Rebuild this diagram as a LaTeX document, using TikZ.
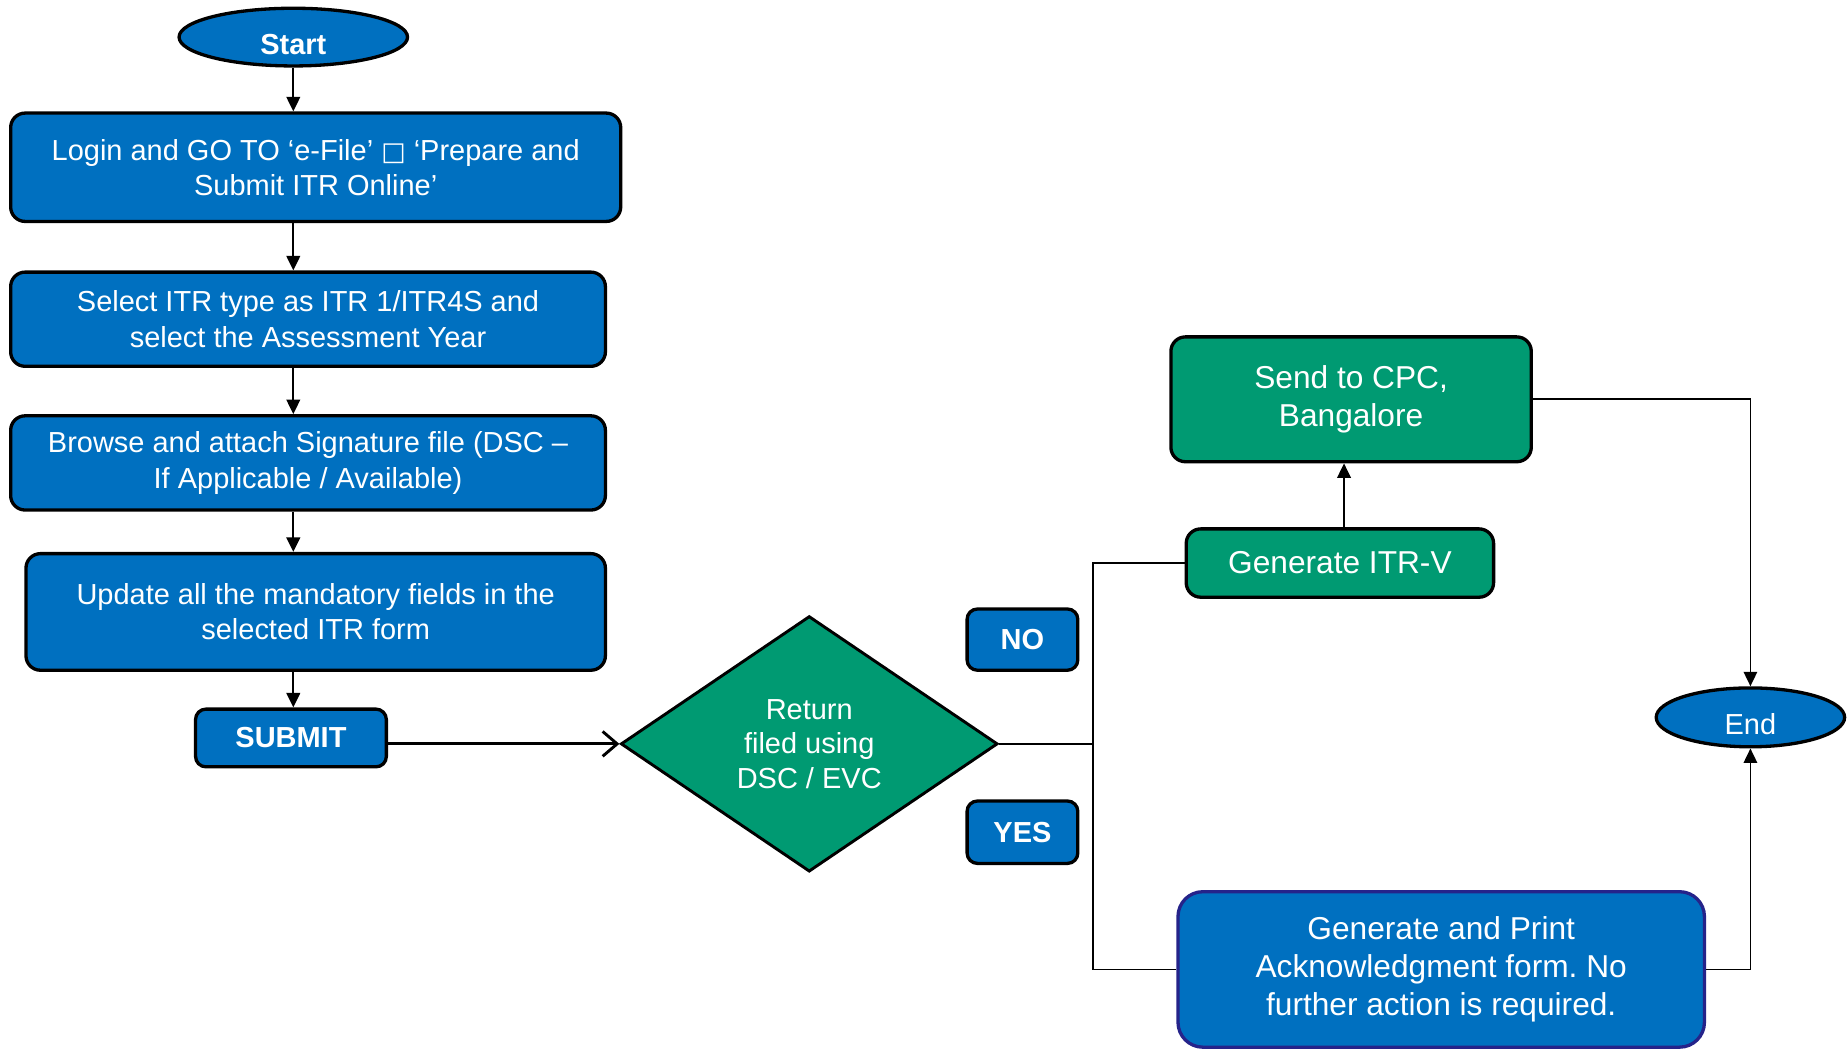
\documentclass[tikz,border=0pt]{standalone}
\usepackage{fontspec}
\setmainfont{Liberation Sans}
\newfontfamily\symfont{DejaVu Sans}
\usepackage{xcolor}
\usepackage{tikz}
\usetikzlibrary{calc,positioning,shapes.geometric,arrows.meta}
\frenchspacing

\definecolor{itblue}{HTML}{0070C0}
\definecolor{itgreen}{HTML}{009A72}
\definecolor{itnavy}{HTML}{25238A}

\begin{document}
\begin{tikzpicture}[x=0.02cm,y=-0.02cm,
		font=\fontsize{14}{17}\selectfont,
		terminal/.style={ellipse,draw=black,line width=1.6pt,fill=itblue,text=white,inner sep=0pt,text height=17pt,text depth=0pt},
		stepbox/.style={rectangle,rounded corners=7pt,draw=black,line width=1.6pt,fill=itblue,text=white,align=center,inner sep=0pt},
		greenbox/.style={stepbox,fill=itgreen,font=\fontsize{15.3}{18.5}\selectfont},
		tagbox/.style={stepbox,rounded corners=5pt,font=\bfseries\fontsize{14}{17}\selectfont},
		decision/.style={diamond,draw=black,line width=1.4pt,fill=itgreen,text=white,align=center,inner sep=0pt,font=\fontsize{14}{16.7}\selectfont},
		flowarrow/.style={line width=1.15pt,-{Triangle[length=7pt,width=6.5pt]}},
		joinline/.style={line width=0.7pt}]
	\useasboundingbox (0,0) rectangle (1568,891);

	% left column
	\node[terminal,minimum width=3.88cm,minimum height=0.98cm,font=\bfseries\fontsize{14}{17}\selectfont] (start) at (249,31.5) {Start};
	\node[stepbox,minimum width=10.36cm,minimum height=1.84cm] (login) at (268,142)
	{Login and GO TO ‘e-File’ {\symfont\fontsize{12.5}{17}\selectfont □} ‘Prepare and\\Submit ITR Online’};
	\node[stepbox,minimum width=10.1cm,minimum height=1.6cm] (select) at (261.5,271)
	{Select ITR type as ITR 1/ITR4S and\\select the Assessment Year};
	\node[stepbox,minimum width=10.1cm,minimum height=1.6cm] (browse) at (261.5,393)
	{Browse and attach Signature file (DSC –\\If Applicable / Available)};
	\node[stepbox,minimum width=9.84cm,minimum height=1.98cm] (update) at (268,519.5)
	{Update all the mandatory fields in the\\selected ITR form};
	\node[tagbox,minimum width=3.24cm,minimum height=0.98cm] (submit) at (247,626.5) {SUBMIT};

	% decision and answers
	\node[decision,minimum width=6.4cm,minimum height=4.34cm] (check) at (687,631.5)
	{Return\\filed using\\DSC / EVC};
	\node[tagbox,minimum width=1.88cm,minimum height=1.04cm] (no) at (868,543) {NO};
	\node[tagbox,minimum width=1.88cm,minimum height=1.06cm] (yes) at (868,706.5) {YES};
	\coordinate (split) at (928,631.5);

	% right side
	\node[greenbox,minimum width=5.22cm,minimum height=1.16cm] (itrv) at (1137.5,478) {Generate ITR-V};
	\node[greenbox,minimum width=6.12cm,minimum height=2.12cm] (cpc) at (1147,339) {Send to CPC,\\Bangalore};
	\node[stepbox,draw=itnavy,rounded corners=12pt,minimum width=8.94cm,minimum height=2.64cm,font=\fontsize{15.3}{18.4}\selectfont] (ack) at (1223.5,823)
	{Generate and Print\\Acknowledgment form. No\\further action is required.};
	\node[terminal,minimum width=3.2cm,minimum height=1cm] (theend) at (1486,609) {End};

	% connectors
	\draw[flowarrow] (start) -- (start |- login.north);
	\draw[flowarrow] (login.south -| start) -- (select.north -| start);
	\draw[flowarrow] (select.south -| start) -- (browse.north -| start);
	\draw[flowarrow] (browse.south -| start) -- (update.north -| start);
	\draw[flowarrow] (update.south -| start) -- (submit.north -| start);
	\draw[line width=1.4pt,-{Straight Barb[length=7pt,width=12pt]}] (submit.east |- check.west) -- (check.west);
	\draw[joinline] (check.east) -- (split);
	\draw[joinline] (itrv.west) -| (split) |- (ack.west);
	\draw[flowarrow] (itrv.north -| 1141,0) -- (cpc.south -| 1141,0);
	\draw[flowarrow,line width=0.9pt] (cpc.east) -| (theend.north);
	\draw[flowarrow,line width=0.9pt] (ack.east) -| (theend.south);
\end{tikzpicture}
\end{document}
